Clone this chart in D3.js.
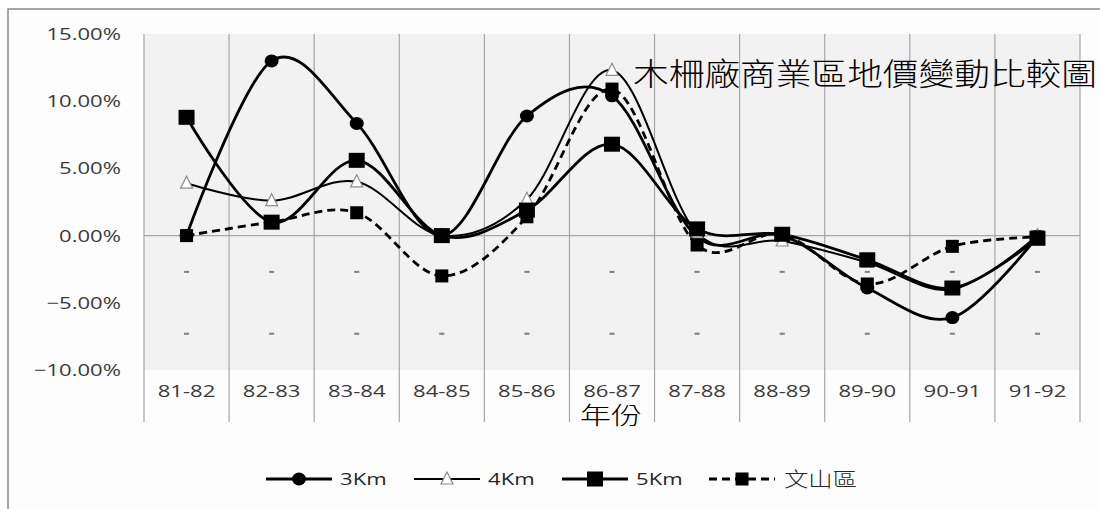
<!DOCTYPE html>
<html>
<head>
<meta charset="utf-8">
<script src="https://cdn.jsdelivr.net/npm/d3@7/dist/d3.min.js"></script>
<style>
  html, body { margin: 0; padding: 0; background: #ffffff; }
  svg { display: block; }
</style>
</head>
<body>
<svg id="chart" width="1100" height="509"></svg>
<script>
// Year ranges on the category axis
const categories = ["81-82", "82-83", "83-84", "84-85", "85-86", "86-87", "87-88", "88-89", "89-90", "90-91", "91-92"];

// Land price change (%) per series
const km3     = [0, 13.0, 8.35, 0, 8.9, 10.4, -0.1, 0.0, -3.9, -6.1, -0.05];
const km4     = [3.9, 2.6, 4.0, 0, 2.7, 12.3, 0.2, -0.4, -2.0, -4.0, 0];
const km5     = [8.8, 1.0, 5.6, 0, 1.9, 6.8, 0.5, 0.1, -1.8, -3.9, -0.2];
const wenshan = [0, 1.0, 1.7, -3.0, 1.4, 10.9, -0.7, 0.1, -3.6, -0.8, -0.1];

// Value axis ticks (%)
const yTicks = [15, 10, 5, 0, -5, -10];
// Levels of the small "-" placeholder labels in every column (%)
const dashLevels = [-2.7, -7.3];

const seriesNames = ["3Km", "4Km", "5Km", "文山區"];
const chartTitle = "木柵廠商業區地價變動比較圖";
const xTitle = "年份";

const svg = d3.select("#chart");
const W = 1100, H = 509;
const plot = { left: 144, right: 1080, top: 34, bottom: 370, catBottom: 422 };
const SX = 1.3;               // horizontal stretch of the label font
const FONT = "'Open Sans', 'Noto Sans', sans-serif";
const CJK = "'Noto Sans CJK TC', 'Noto Sans CJK SC', sans-serif";

const x = d3.scaleBand().domain(categories).range([plot.left, plot.right]).padding(0);
const y = d3.scaleLinear().domain([-10, 15]).range([plot.bottom, plot.top]);
const cx = c => x(c) + x.bandwidth() / 2;

// Chart background and frame
svg.append("rect").attr("x", 0).attr("y", 0).attr("width", W).attr("height", H).attr("fill", "#ffffff");
svg.append("rect").attr("x", 8).attr("y", 9).attr("width", W).attr("height", H)
  .attr("fill", "#fdfdfd").attr("stroke", "#8a8a8a").attr("stroke-width", 1.5);

// Plot area
svg.append("rect")
  .attr("x", plot.left).attr("y", y(15))
  .attr("width", plot.right - plot.left).attr("height", y(-10) - y(15))
  .attr("fill", "#f2f2f2");

// Vertical category boundaries
const bounds = categories.map(c => x(c)).concat([plot.right]);
svg.append("g").selectAll("line").data(bounds).join("line")
  .attr("x1", d => d).attr("x2", d => d)
  .attr("y1", y(15)).attr("y2", plot.catBottom)
  .attr("stroke", "#a6a6a6").attr("stroke-width", 1.2);

// Zero line
svg.append("line")
  .attr("x1", plot.left).attr("x2", plot.right)
  .attr("y1", y(0)).attr("y2", y(0))
  .attr("stroke", "#a6a6a6").attr("stroke-width", 1.2);

// Helper: horizontally stretched text
function stretchedText(g, tx, ty, str, anchor, size, color, family) {
  return g.append("text")
    .attr("transform", `translate(${tx},${ty}) scale(${SX},1)`)
    .attr("text-anchor", anchor)
    .attr("font-family", family || FONT)
    .attr("font-size", size)
    .attr("fill", color)
    .text(str);
}

// Y axis labels
const yAxisG = svg.append("g");
yTicks.forEach(t => {
  stretchedText(yAxisG, 121, y(t) + 6, d3.format(".2f")(t) + "%", "end", 17, "#3a3a3a");
});

// Category labels
const xAxisG = svg.append("g");
categories.forEach(c => {
  stretchedText(xAxisG, cx(c), 397, c, "middle", 17, "#3a3a3a");
});

// "-" placeholder labels
const dashG = svg.append("g");
dashLevels.forEach(lv => {
  categories.forEach(c => {
    dashG.append("rect")
      .attr("x", cx(c) - 2.5).attr("y", y(lv) - 1)
      .attr("width", 5).attr("height", 2)
      .attr("fill", "#7f7f7f");
  });
});

// Series lines
const line = d3.line()
  .x((d, i) => cx(categories[i]))
  .y(d => y(d))
  .curve(d3.curveCardinal.tension(0));

const series = [
  { name: seriesNames[0], values: km3, width: 2.8, dash: null, marker: "circle" },
  { name: seriesNames[1], values: km4, width: 2.0, dash: null, marker: "triangle" },
  { name: seriesNames[2], values: km5, width: 2.8, dash: null, marker: "bigsquare" },
  { name: seriesNames[3], values: wenshan, width: 2.8, dash: "8,5", marker: "square" }
];

function drawMarker(g, type, px, py) {
  if (type === "circle") {
    g.append("ellipse").attr("cx", px).attr("cy", py).attr("rx", 7).attr("ry", 6.5).attr("fill", "#000");
  } else if (type === "triangle") {
    g.append("path")
      .attr("d", `M${px},${py - 7} L${px + 6},${py + 5} L${px - 6},${py + 5} Z`)
      .attr("fill", "#ffffff").attr("stroke", "#8c8c8c").attr("stroke-width", 1.2);
  } else if (type === "bigsquare") {
    g.append("rect").attr("x", px - 8).attr("y", py - 7.5).attr("width", 16).attr("height", 15).attr("fill", "#000");
  } else {
    g.append("rect").attr("x", px - 6.5).attr("y", py - 6.5).attr("width", 13).attr("height", 13).attr("fill", "#000");
  }
}

series.forEach(s => {
  const g = svg.append("g");
  g.append("path")
    .attr("d", line(s.values))
    .attr("fill", "none")
    .attr("stroke", "#000")
    .attr("stroke-width", s.width)
    .attr("stroke-dasharray", s.dash);
  s.values.forEach((v, i) => drawMarker(g, s.marker, cx(categories[i]), y(v)));
});

// Chart title
svg.append("text")
  .attr("x", 633).attr("y", 85)
  .attr("font-family", CJK).attr("font-size", 31).attr("font-weight", 300)
  .attr("fill", "#000")
  .attr("textLength", 464).attr("lengthAdjust", "spacingAndGlyphs")
  .text(chartTitle);

// Category axis title
svg.append("text")
  .attr("x", 580).attr("y", 424)
  .attr("font-family", CJK).attr("font-size", 24).attr("font-weight", 300)
  .attr("fill", "#000")
  .attr("textLength", 62).attr("lengthAdjust", "spacingAndGlyphs")
  .text(xTitle);

// Legend
const legendY = 479;
const legendItems = [
  { s: series[0], x0: 266 },
  { s: series[1], x0: 414 },
  { s: series[2], x0: 562 },
  { s: series[3], x0: 709 }
];
const legG = svg.append("g");
legendItems.forEach(it => {
  legG.append("line")
    .attr("x1", it.x0).attr("x2", it.x0 + 66)
    .attr("y1", legendY).attr("y2", legendY)
    .attr("stroke", "#000").attr("stroke-width", it.s.width)
    .attr("stroke-dasharray", it.s.dash);
  drawMarker(legG, it.s.marker, it.x0 + 33, legendY);
  if (it.s.name === seriesNames[3]) {
    legG.append("text")
      .attr("x", it.x0 + 75).attr("y", legendY + 8)
      .attr("font-family", CJK).attr("font-size", 20).attr("font-weight", 300)
      .attr("fill", "#262626")
      .attr("textLength", 73).attr("lengthAdjust", "spacingAndGlyphs")
      .text(it.s.name);
  } else {
    stretchedText(legG, it.x0 + 74, legendY + 6, it.s.name, "start", 17, "#262626");
  }
});
</script>
</body>
</html>
